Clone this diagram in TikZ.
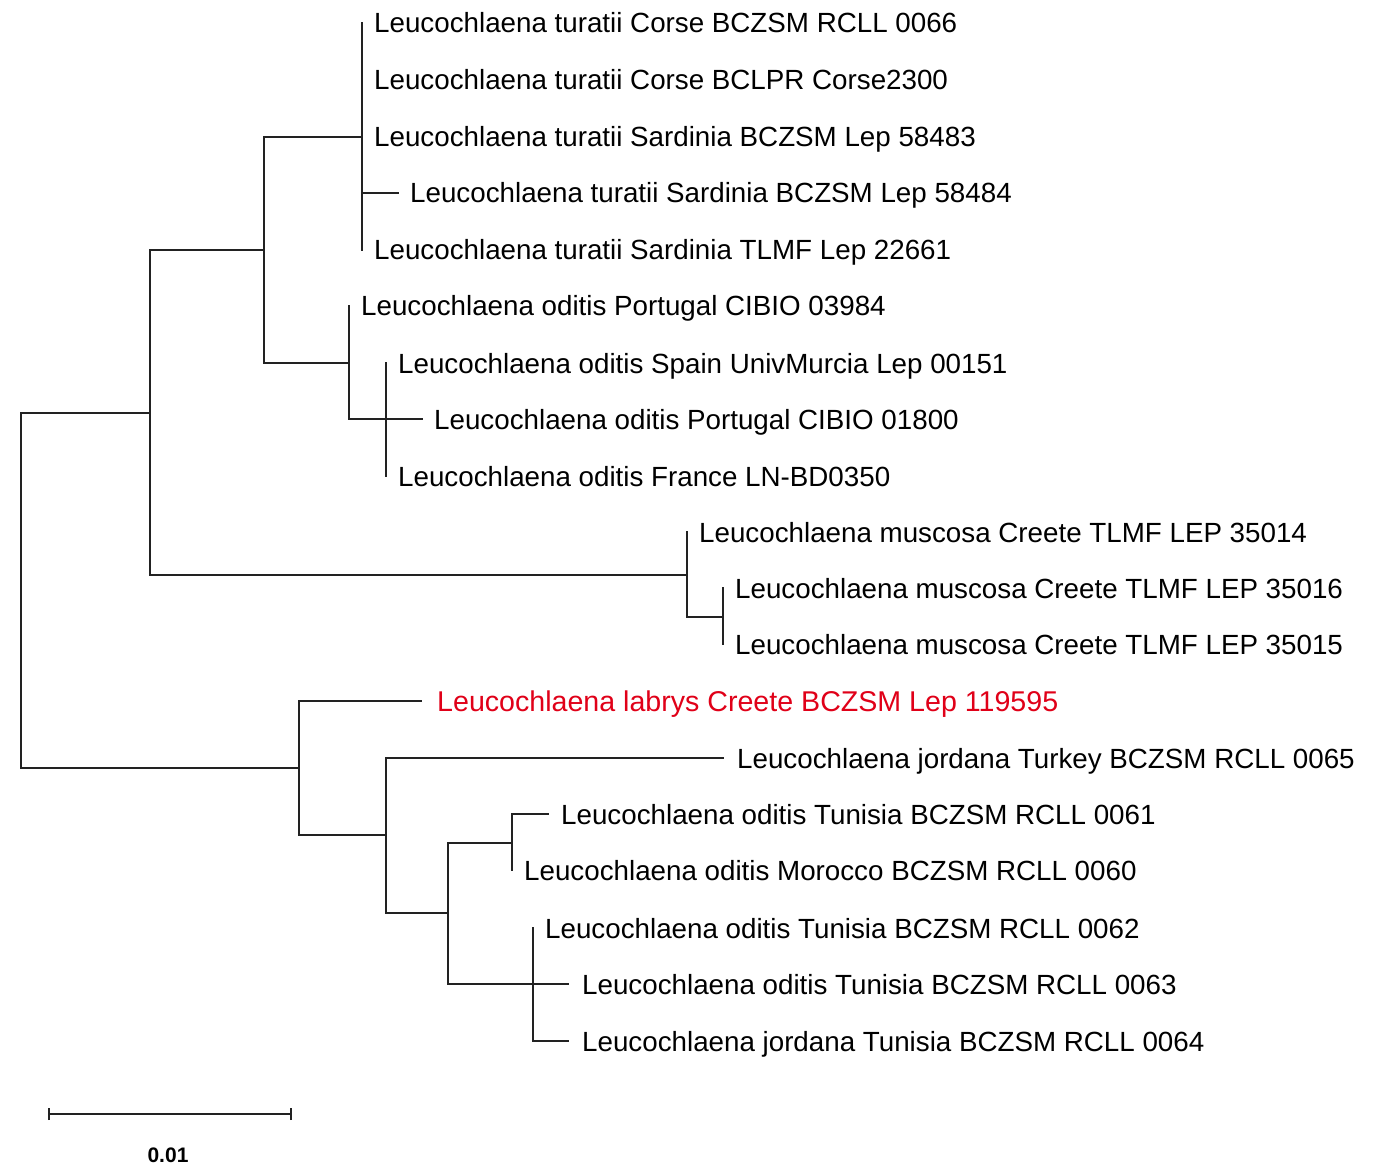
\documentclass[tikz,border=0pt]{standalone}
\usepackage{fontspec}
\setmainfont{Liberation Sans}
\definecolor{labred}{RGB}{224,0,24}
\definecolor{treeline}{RGB}{34,34,34}
\begin{document}
\begin{tikzpicture}[x=1pt,y=-1pt,
  tip/.style={anchor=west,inner xsep=12pt,inner ysep=0pt,text height=26pt,text depth=6pt,
    font=\fontsize{27.75}{30}\selectfont,text=black},
  branch/.style={draw=treeline,line width=1.6pt,line cap=rect,line join=miter}]
\useasboundingbox (0,0) rectangle (1381,1174);
% tips
\node[tip] (t1) at (362,23) {Leucochlaena turatii Corse BCZSM RCLL 0066};
\node[tip] (t2) at (362,80) {Leucochlaena turatii Corse BCLPR Corse2300};
\node[tip] (t3) at (362,137) {Leucochlaena turatii Sardinia BCZSM Lep 58483};
\node[tip] (t4) at (398,193) {Leucochlaena turatii Sardinia BCZSM Lep 58484};
\node[tip] (t5) at (362,250) {Leucochlaena turatii Sardinia TLMF Lep 22661};
\node[tip] (t6) at (349,306) {Leucochlaena oditis Portugal CIBIO 03984};
\node[tip] (t7) at (386,363) {Leucochlaena oditis Spain UnivMurcia Lep 00151};
\node[tip] (t8) at (422,419) {Leucochlaena oditis Portugal CIBIO 01800};
\node[tip] (t9) at (386,476) {Leucochlaena oditis France LN-BD0350};
\node[tip] (t10) at (687,532) {Leucochlaena muscosa Creete TLMF LEP 35014};
\node[tip] (t11) at (723,588) {Leucochlaena muscosa Creete TLMF LEP 35016};
\node[tip] (t12) at (723,644) {Leucochlaena muscosa Creete TLMF LEP 35015};
\node[tip,text=labred,inner xsep=16pt,font=\fontsize{28.6}{30}\selectfont] (t13) at (421,701) {Leucochlaena labrys Creete BCZSM Lep 119595};
\node[tip,inner xsep=14pt] (t14) at (723,758) {Leucochlaena jordana Turkey BCZSM RCLL 0065};
\node[tip,inner xsep=13pt] (t15) at (548,814) {Leucochlaena oditis Tunisia BCZSM RCLL 0061};
\node[tip] (t16) at (512,870) {Leucochlaena oditis Morocco BCZSM RCLL 0060};
\node[tip] (t17) at (533,928) {Leucochlaena oditis Tunisia BCZSM RCLL 0062};
\node[tip,inner xsep=14pt] (t18) at (568,984) {Leucochlaena oditis Tunisia BCZSM RCLL 0063};
\node[tip,inner xsep=14pt] (t19) at (568,1041) {Leucochlaena jordana Tunisia BCZSM RCLL 0064};
% internal nodes
\coordinate (R) at (21,590);
\coordinate (E) at (150,413);
\coordinate (H) at (299,768);
\coordinate (B) at (264,250);
\coordinate (F) at (687,575);
\coordinate (A) at (362,137);
\coordinate (C) at (349,363);
\coordinate (D) at (386,419);
\coordinate (G) at (723,617);
\coordinate (I) at (386,835);
\coordinate (J) at (448,913);
\coordinate (K) at (512,843);
\coordinate (L) at (533,984);
% branches
\draw[branch] (E) -| (R) |- (H);
\draw[branch] (B) -| (E) |- (F);
\draw[branch] (A) -| (B) |- (C);
\draw[branch] (t1.west) -- (t5.west);
\draw[branch] (A |- t4.west) -- (t4.west);
\draw[branch] (t6.west) |- (D);
\draw[branch] (t7.west) -- (t9.west);
\draw[branch] (D) -- (t8.west);
\draw[branch] (t10.west) |- (G);
\draw[branch] (t11.west) -- (t12.west);
\draw[branch] (t13.west) -| (H) |- (I);
\draw[branch] (t14.west) -| (I) |- (J);
\draw[branch] (K) -| (J) |- (L);
\draw[branch] (t15.west) -| (t16.west);
\draw[branch] (t17.west) |- (t19.west);
\draw[branch] (L) -- (t18.west);
% scale bar
\coordinate (s1) at (49,1114);
\coordinate (s2) at (291,1114);
\draw[branch,line width=2pt,line cap=butt] (s1) -- (s2);
\draw[branch,line width=2pt,line cap=butt] ([yshift=-6pt]s1) -- ([yshift=6pt]s1);
\draw[branch,line width=2pt,line cap=butt] ([yshift=-6pt]s2) -- ([yshift=6pt]s2);
\node[font=\fontsize{21}{24}\selectfont\bfseries,anchor=base,inner sep=0pt] (sl) at (168,1162) {0.01};
\end{tikzpicture}
\end{document}
